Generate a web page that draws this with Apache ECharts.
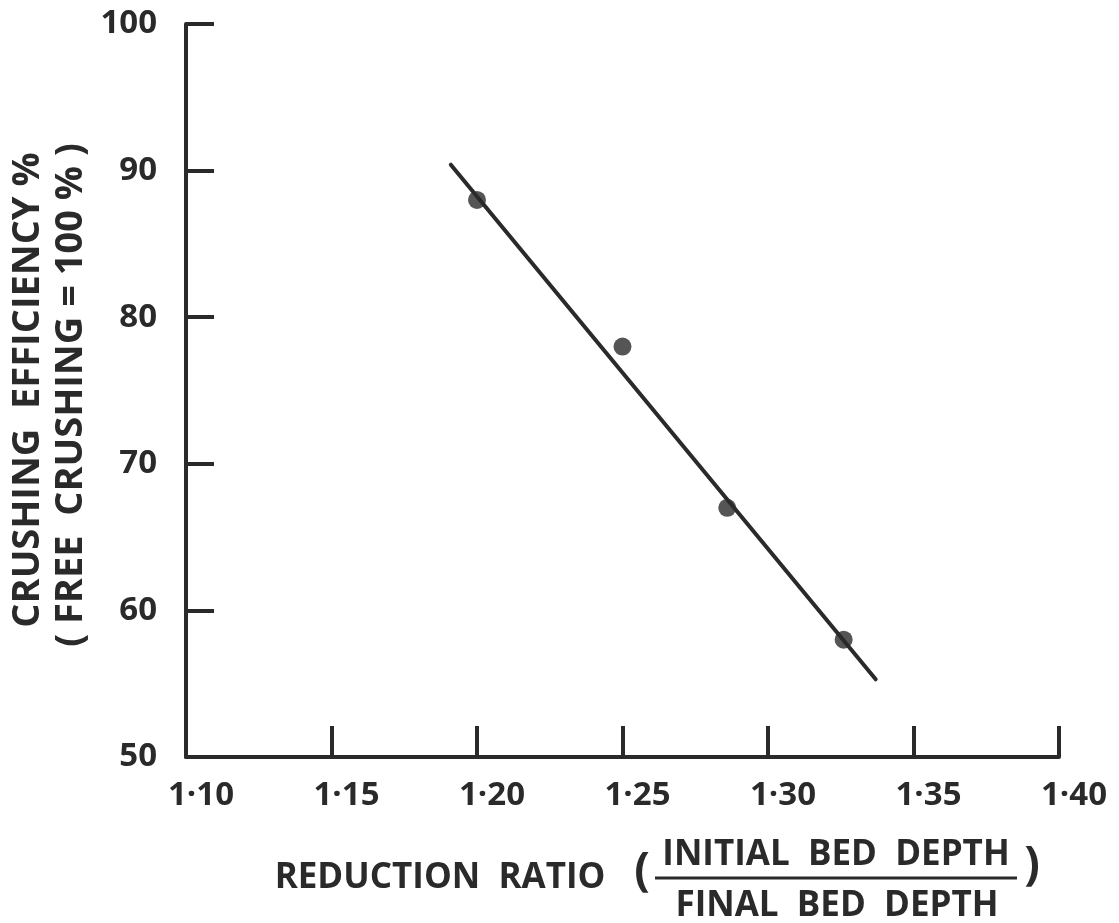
<!DOCTYPE html>
<html>
<head>
<meta charset="utf-8">
<script src="https://cdn.jsdelivr.net/npm/echarts@6/dist/echarts.min.js"></script>
<style>
  html, body { margin: 0; padding: 0; background: #fff; }
  #chart { width: 1119px; height: 923px; }
</style>
</head>
<body>
<div id="chart"></div>
<script>
// Measured points: reduction ratio vs crushing efficiency
const reductionRatio = [1.20, 1.25, 1.286, 1.326];
const crushingEfficiency = [88, 78, 67, 58];
// Fitted straight line endpoints (as drawn)
const fitX = [1.191, 1.337];
const fitY = [90.4, 55.3];
// Tick labels
const xTickLabels = ['1·10', '1·15', '1·20', '1·25', '1·30', '1·35', '1·40'];
const yTickLabels = ['50', '60', '70', '80', '90', '100'];
const yTitle1 = 'CRUSHING  EFFICIENCY %';
const yTitle2 = '( FREE  CRUSHING = 100 % )';
const xTitle = 'REDUCTION  RATIO';
const xTitleNum = 'INITIAL  BED  DEPTH';
const xTitleDen = 'FINAL  BED  DEPTH';

const ink = '#2a2a2a';
const FONT = '"Open Sans", "DejaVu Sans", sans-serif';

const chart = echarts.init(document.getElementById('chart'));
const points = reductionRatio.map((x, i) => [x, crushingEfficiency[i]]);
const fitLine = fitX.map((x, i) => [x, fitY[i]]);

function txt(x, y, text, size, rot) {
  return {
    type: 'text', x: x, y: y, rotation: rot || 0, silent: true,
    style: {
      text: text, fill: ink,
      font: 'bold ' + size + 'px ' + FONT,
      textAlign: 'center', textVerticalAlign: 'middle',
      align: 'center', verticalAlign: 'middle'
    }
  };
}

chart.setOption({
  backgroundColor: '#ffffff',
  animation: false,
  grid: { left: 186, right: 60, top: 24, bottom: 166 },
  xAxis: {
    type: 'value', min: 1.10, max: 1.40, interval: 0.05,
    axisLine: { lineStyle: { color: ink, width: 4 } },
    axisTick: { inside: true, length: 31, lineStyle: { color: ink, width: 4 } },
    splitLine: { show: false },
    axisLabel: {
      color: ink, fontFamily: FONT, fontWeight: 'bold', fontSize: 33, margin: 22,
      padding: [0, 0, 0, 30],
      formatter: (v, i) => xTickLabels[i]
    }
  },
  yAxis: {
    type: 'value', min: 50, max: 100, interval: 10,
    axisLine: { lineStyle: { color: ink, width: 4 } },
    axisTick: { inside: true, length: 28, lineStyle: { color: ink, width: 4 } },
    splitLine: { show: false },
    axisLabel: {
      color: ink, fontFamily: FONT, fontWeight: 'bold', fontSize: 33, margin: 29,
      formatter: (v, i) => yTickLabels[i]
    }
  },
  series: [
    {
      type: 'line', data: fitLine, showSymbol: false, symbol: 'none',
      lineStyle: { color: ink, width: 4, cap: 'round' }, z: 2
    },
    {
      type: 'scatter', data: points, symbol: 'circle', symbolSize: 18,
      itemStyle: { color: ink }, z: 3
    }
  ],
  graphic: [
    txt(28, 390, yTitle1, 38, Math.PI / 2),
    txt(71, 395, yTitle2, 38, Math.PI / 2),
    txt(440, 878, xTitle, 35),
    txt(642, 872, '(', 46),
    txt(836, 855, xTitleNum, 35),
    txt(837, 906, xTitleDen, 35),
    txt(1032, 866, ')', 46),
    {
      type: 'line', silent: true,
      shape: { x1: 655, y1: 878, x2: 1017, y2: 878 },
      style: { stroke: ink, lineWidth: 3 }
    }
  ]
});
</script>
</body>
</html>
